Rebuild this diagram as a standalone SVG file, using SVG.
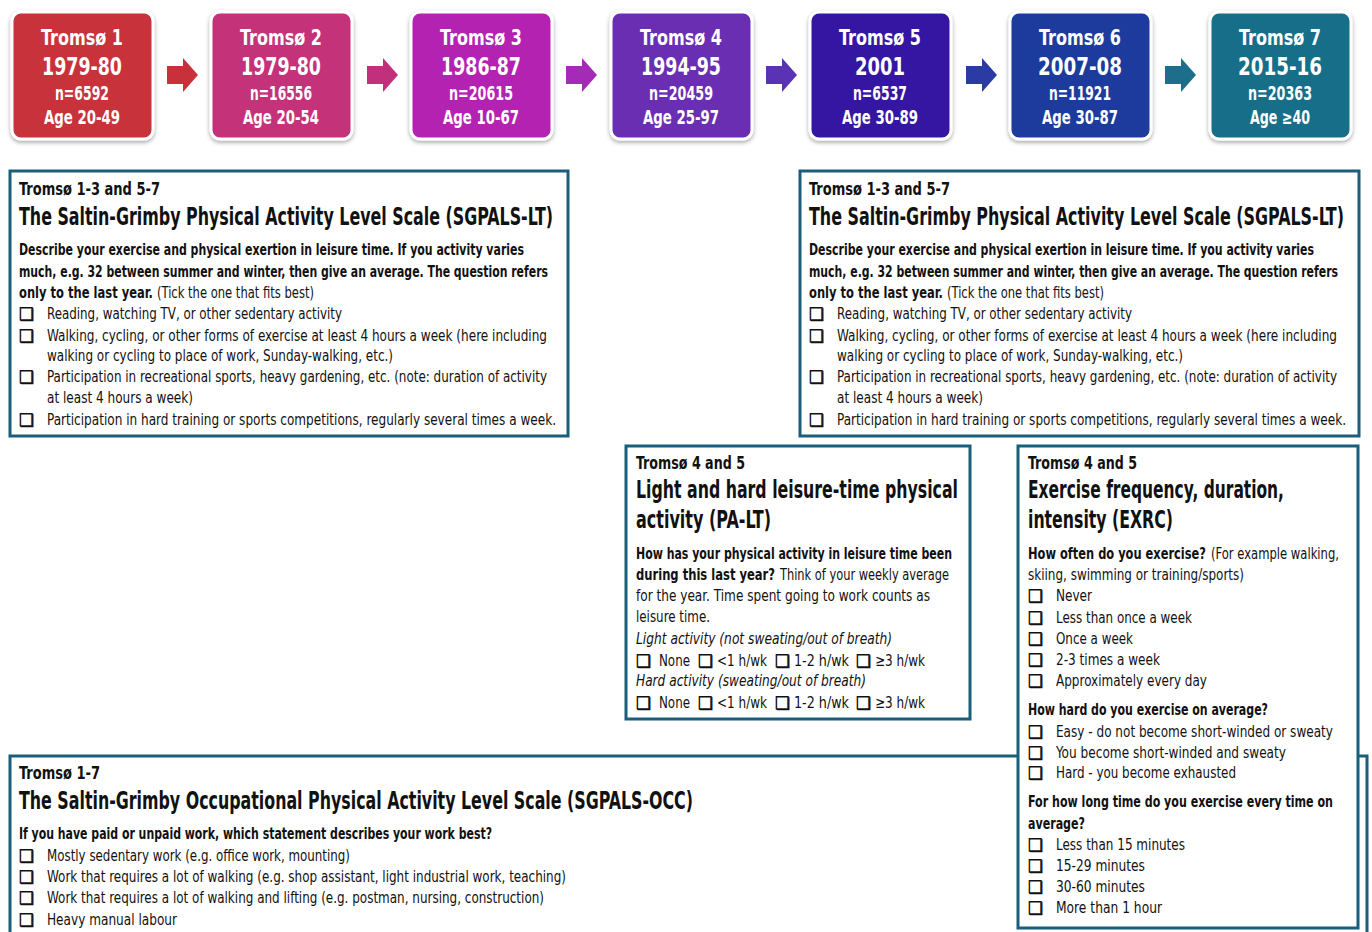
<svg xmlns="http://www.w3.org/2000/svg" width="1372" height="932" viewBox="0 0 1372 932">
<defs>
<filter id="sh" x="-10%" y="-10%" width="120%" height="125%">
<feDropShadow dx="0" dy="2" stdDeviation="2" flood-color="#000" flood-opacity="0.35"/>
</filter>
<style>
text{font-family:"Liberation Sans Narrow","Arial Narrow","DejaVu Sans Condensed","Liberation Sans",sans-serif;fill:#111;}
.wt{fill:#fff;font-weight:bold;text-anchor:middle;}
.t1{font-size:22px;}
.t2{font-size:25px;}
.t3{font-size:19px;}
.sub{font-size:17px;font-weight:bold;}
.ttl{font-size:24px;font-weight:bold;}
.b{font-size:16px;font-weight:bold;}
.r{font-size:16px;}
.i{font-size:16px;font-style:italic;}
.cb{font-family:"DejaVu Sans",sans-serif;font-size:17px;fill:#111;stroke:#111;stroke-width:0.6;}
.frame{fill:#fff;stroke:#1b5e7b;stroke-width:3;}
.tb{stroke:#fff;stroke-width:3;filter:url(#sh);}
</style>
</defs>
<rect width="1372" height="932" fill="#fff"/>

<g id="connectors">
<polygon points="167,66 183,66 183,58 198,75 183,92 183,84 167,84" fill="#c8303a"/>
<polygon points="367,66 383,66 383,58 398,75 383,92 383,84 367,84" fill="#c1307b"/>
<polygon points="566,66 582,66 582,58 597,75 582,92 582,84 566,84" fill="#a62ab8"/>
<polygon points="766,66 782,66 782,58 797,75 782,92 782,84 766,84" fill="#5a32b4"/>
<polygon points="966,66 982,66 982,58 997,75 982,92 982,84 966,84" fill="#2a3ca4"/>
<polygon points="1165,66 1181,66 1181,58 1196,75 1181,92 1181,84 1165,84" fill="#1d6e8a"/>
</g>

<g id="tromso1">
<rect class="tb" x="12" y="12" width="141" height="127" rx="9" fill="#c8303a"/>
<text class="wt t1" x="82" y="45" textLength="82" lengthAdjust="spacingAndGlyphs">Tromsø 1</text>
<text class="wt t2" x="82" y="75" textLength="80" lengthAdjust="spacingAndGlyphs">1979-80</text>
<text class="wt t3" x="82" y="100" textLength="54" lengthAdjust="spacingAndGlyphs">n=6592</text>
<text class="wt t3" x="82" y="124" textLength="76" lengthAdjust="spacingAndGlyphs">Age 20-49</text>
</g>
<g id="tromso2">
<rect class="tb" x="211" y="12" width="141" height="127" rx="9" fill="#c4307a"/>
<text class="wt t1" x="281" y="45" textLength="82" lengthAdjust="spacingAndGlyphs">Tromsø 2</text>
<text class="wt t2" x="281" y="75" textLength="80" lengthAdjust="spacingAndGlyphs">1979-80</text>
<text class="wt t3" x="281" y="100" textLength="62" lengthAdjust="spacingAndGlyphs">n=16556</text>
<text class="wt t3" x="281" y="124" textLength="76" lengthAdjust="spacingAndGlyphs">Age 20-54</text>
</g>
<g id="tromso3">
<rect class="tb" x="411" y="12" width="141" height="127" rx="9" fill="#b424b2"/>
<text class="wt t1" x="481" y="45" textLength="82" lengthAdjust="spacingAndGlyphs">Tromsø 3</text>
<text class="wt t2" x="481" y="75" textLength="80" lengthAdjust="spacingAndGlyphs">1986-87</text>
<text class="wt t3" x="481" y="100" textLength="64" lengthAdjust="spacingAndGlyphs">n=20615</text>
<text class="wt t3" x="481" y="124" textLength="76" lengthAdjust="spacingAndGlyphs">Age 10-67</text>
</g>
<g id="tromso4">
<rect class="tb" x="611" y="12" width="141" height="127" rx="9" fill="#6b2db2"/>
<text class="wt t1" x="681" y="45" textLength="82" lengthAdjust="spacingAndGlyphs">Tromsø 4</text>
<text class="wt t2" x="681" y="75" textLength="80" lengthAdjust="spacingAndGlyphs">1994-95</text>
<text class="wt t3" x="681" y="100" textLength="64" lengthAdjust="spacingAndGlyphs">n=20459</text>
<text class="wt t3" x="681" y="124" textLength="76" lengthAdjust="spacingAndGlyphs">Age 25-97</text>
</g>
<g id="tromso5">
<rect class="tb" x="810" y="12" width="141" height="127" rx="9" fill="#3419a2"/>
<text class="wt t1" x="880" y="45" textLength="82" lengthAdjust="spacingAndGlyphs">Tromsø 5</text>
<text class="wt t2" x="880" y="75" textLength="50" lengthAdjust="spacingAndGlyphs">2001</text>
<text class="wt t3" x="880" y="100" textLength="54" lengthAdjust="spacingAndGlyphs">n=6537</text>
<text class="wt t3" x="880" y="124" textLength="76" lengthAdjust="spacingAndGlyphs">Age 30-89</text>
</g>
<g id="tromso6">
<rect class="tb" x="1010" y="12" width="141" height="127" rx="9" fill="#1f3b9c"/>
<text class="wt t1" x="1080" y="45" textLength="82" lengthAdjust="spacingAndGlyphs">Tromsø 6</text>
<text class="wt t2" x="1080" y="75" textLength="84" lengthAdjust="spacingAndGlyphs">2007-08</text>
<text class="wt t3" x="1080" y="100" textLength="62" lengthAdjust="spacingAndGlyphs">n=11921</text>
<text class="wt t3" x="1080" y="124" textLength="76" lengthAdjust="spacingAndGlyphs">Age 30-87</text>
</g>
<g id="tromso7">
<rect class="tb" x="1210" y="12" width="141" height="127" rx="9" fill="#166e88"/>
<text class="wt t1" x="1280" y="45" textLength="82" lengthAdjust="spacingAndGlyphs">Tromsø 7</text>
<text class="wt t2" x="1280" y="75" textLength="84" lengthAdjust="spacingAndGlyphs">2015-16</text>
<text class="wt t3" x="1280" y="100" textLength="64" lengthAdjust="spacingAndGlyphs">n=20363</text>
<text class="wt t3" x="1280" y="124" textLength="60" lengthAdjust="spacingAndGlyphs">Age ≥40</text>
</g>

<g id="sgpals-lt-left">
<rect class="frame" x="10" y="171" width="558" height="265"/>
<text class="cb" x="19" y="320">❑</text>
<text class="cb" x="19" y="342">❑</text>
<text class="cb" x="19" y="383">❑</text>
<text class="cb" x="19" y="426">❑</text>
<g transform="scale(0.7,1)">
<text class="ttl" x="27.14" y="225" textLength="762.86" lengthAdjust="spacingAndGlyphs">The Saltin-Grimby Physical Activity Level Scale (SGPALS-LT)</text>
</g>
<g transform="scale(0.8,1)">
<text class="sub" x="23.75" y="195" textLength="176.25" lengthAdjust="spacingAndGlyphs">Tromsø 1-3 and 5-7</text>
<text class="b" x="23.75" y="255" textLength="631.25" lengthAdjust="spacingAndGlyphs">Describe your exercise and physical exertion in leisure time. If you activity varies</text>
<text class="b" x="23.75" y="277" textLength="661.25" lengthAdjust="spacingAndGlyphs">much, e.g. 32 between summer and winter, then give an average. The question refers</text>
<text class="b" x="23.75" y="298" textLength="167.5" lengthAdjust="spacingAndGlyphs">only to the last year.</text>
<text class="r" x="196.25" y="298" textLength="196.25" lengthAdjust="spacingAndGlyphs">(Tick the one that fits best)</text>
<text class="r" x="58.75" y="319" textLength="368.75" lengthAdjust="spacingAndGlyphs">Reading, watching TV, or other sedentary activity</text>
<text class="r" x="58.75" y="341" textLength="625" lengthAdjust="spacingAndGlyphs">Walking, cycling, or other forms of exercise at least 4 hours a week (here including</text>
<text class="r" x="58.75" y="361" textLength="432.5" lengthAdjust="spacingAndGlyphs">walking or cycling to place of work, Sunday-walking, etc.)</text>
<text class="r" x="58.75" y="382" textLength="625" lengthAdjust="spacingAndGlyphs">Participation in recreational sports, heavy gardening, etc. (note: duration of activity</text>
<text class="r" x="58.75" y="403" textLength="182.5" lengthAdjust="spacingAndGlyphs">at least 4 hours a week)</text>
<text class="r" x="58.75" y="425" textLength="636.25" lengthAdjust="spacingAndGlyphs">Participation in hard training or sports competitions, regularly several times a week.</text>
</g>
</g>

<g id="sgpals-lt-right">
<rect class="frame" x="800" y="171" width="559" height="265"/>
<text class="cb" x="809" y="320">❑</text>
<text class="cb" x="809" y="342">❑</text>
<text class="cb" x="809" y="383">❑</text>
<text class="cb" x="809" y="426">❑</text>
<g transform="scale(0.7,1)">
<text class="ttl" x="1155.71" y="225" textLength="764.29" lengthAdjust="spacingAndGlyphs">The Saltin-Grimby Physical Activity Level Scale (SGPALS-LT)</text>
</g>
<g transform="scale(0.8,1)">
<text class="sub" x="1011.25" y="195" textLength="176.25" lengthAdjust="spacingAndGlyphs">Tromsø 1-3 and 5-7</text>
<text class="b" x="1011.25" y="255" textLength="631.25" lengthAdjust="spacingAndGlyphs">Describe your exercise and physical exertion in leisure time. If you activity varies</text>
<text class="b" x="1011.25" y="277" textLength="661.25" lengthAdjust="spacingAndGlyphs">much, e.g. 32 between summer and winter, then give an average. The question refers</text>
<text class="b" x="1011.25" y="298" textLength="167.5" lengthAdjust="spacingAndGlyphs">only to the last year.</text>
<text class="r" x="1183.75" y="298" textLength="196.25" lengthAdjust="spacingAndGlyphs">(Tick the one that fits best)</text>
<text class="r" x="1046.25" y="319" textLength="368.75" lengthAdjust="spacingAndGlyphs">Reading, watching TV, or other sedentary activity</text>
<text class="r" x="1046.25" y="341" textLength="625" lengthAdjust="spacingAndGlyphs">Walking, cycling, or other forms of exercise at least 4 hours a week (here including</text>
<text class="r" x="1046.25" y="361" textLength="432.5" lengthAdjust="spacingAndGlyphs">walking or cycling to place of work, Sunday-walking, etc.)</text>
<text class="r" x="1046.25" y="382" textLength="625" lengthAdjust="spacingAndGlyphs">Participation in recreational sports, heavy gardening, etc. (note: duration of activity</text>
<text class="r" x="1046.25" y="403" textLength="182.5" lengthAdjust="spacingAndGlyphs">at least 4 hours a week)</text>
<text class="r" x="1046.25" y="425" textLength="636.25" lengthAdjust="spacingAndGlyphs">Participation in hard training or sports competitions, regularly several times a week.</text>
</g>
</g>

<g id="pa-lt">
<rect class="frame" x="626" y="446" width="344" height="273"/>
<text class="cb" x="636" y="667">❑</text>
<text class="cb" x="698" y="667">❑</text>
<text class="cb" x="775" y="667">❑</text>
<text class="cb" x="856" y="667">❑</text>
<text class="cb" x="636" y="709">❑</text>
<text class="cb" x="698" y="709">❑</text>
<text class="cb" x="775" y="709">❑</text>
<text class="cb" x="856" y="709">❑</text>
<g transform="scale(0.8,1)">
<text class="sub" x="795" y="469" textLength="136.25" lengthAdjust="spacingAndGlyphs">Tromsø 4 and 5</text>
<text class="ttl" x="795" y="498" textLength="402.5" lengthAdjust="spacingAndGlyphs">Light and hard leisure-time physical</text>
<text class="ttl" x="795" y="528" textLength="168.75" lengthAdjust="spacingAndGlyphs">activity (PA-LT)</text>
<text class="b" x="795" y="559" textLength="395" lengthAdjust="spacingAndGlyphs">How has your physical activity in leisure time been</text>
<text class="b" x="795" y="580" textLength="173.75" lengthAdjust="spacingAndGlyphs">during this last year?</text>
<text class="r" x="975" y="580" textLength="211.25" lengthAdjust="spacingAndGlyphs">Think of your weekly average</text>
<text class="r" x="795" y="601" textLength="367.5" lengthAdjust="spacingAndGlyphs">for the year.  Time spent going to work counts as</text>
<text class="r" x="795" y="622" textLength="92.5" lengthAdjust="spacingAndGlyphs">leisure time.</text>
<text class="i" x="795" y="644" textLength="320" lengthAdjust="spacingAndGlyphs">Light activity (not sweating/out of breath)</text>
<text class="r" x="823.75" y="666" textLength="38.75" lengthAdjust="spacingAndGlyphs">None</text>
<text class="r" x="896.25" y="666" textLength="62.5" lengthAdjust="spacingAndGlyphs">&lt;1 h/wk</text>
<text class="r" x="992.5" y="666" textLength="68.75" lengthAdjust="spacingAndGlyphs">1-2 h/wk</text>
<text class="r" x="1093.75" y="666" textLength="62.5" lengthAdjust="spacingAndGlyphs">≥3 h/wk</text>
<text class="i" x="795" y="686" textLength="287.5" lengthAdjust="spacingAndGlyphs">Hard activity (sweating/out of breath)</text>
<text class="r" x="823.75" y="708" textLength="38.75" lengthAdjust="spacingAndGlyphs">None</text>
<text class="r" x="896.25" y="708" textLength="62.5" lengthAdjust="spacingAndGlyphs">&lt;1 h/wk</text>
<text class="r" x="992.5" y="708" textLength="68.75" lengthAdjust="spacingAndGlyphs">1-2 h/wk</text>
<text class="r" x="1093.75" y="708" textLength="62.5" lengthAdjust="spacingAndGlyphs">≥3 h/wk</text>
</g>
</g>

<g id="sgpals-occ">
<rect class="frame" x="10" y="756" width="1357" height="200"/>
<text class="cb" x="19" y="862">❑</text>
<text class="cb" x="19" y="883">❑</text>
<text class="cb" x="19" y="904">❑</text>
<text class="cb" x="19" y="926">❑</text>
<g transform="scale(0.8,1)">
<text class="sub" x="23.75" y="779" textLength="101.25" lengthAdjust="spacingAndGlyphs">Tromsø 1-7</text>
<text class="ttl" x="23.75" y="809" textLength="842.5" lengthAdjust="spacingAndGlyphs">The Saltin-Grimby Occupational Physical Activity Level Scale (SGPALS-OCC)</text>
<text class="b" x="23.75" y="839" textLength="591.25" lengthAdjust="spacingAndGlyphs">If you have paid or unpaid work, which statement describes your work best?</text>
<text class="r" x="58.75" y="861" textLength="378.75" lengthAdjust="spacingAndGlyphs">Mostly sedentary work (e.g. office work, mounting)</text>
<text class="r" x="58.75" y="882" textLength="648.75" lengthAdjust="spacingAndGlyphs">Work that requires a lot of walking (e.g. shop assistant, light industrial work, teaching)</text>
<text class="r" x="58.75" y="903" textLength="621.25" lengthAdjust="spacingAndGlyphs">Work that requires a lot of walking and lifting (e.g. postman, nursing, construction)</text>
<text class="r" x="58.75" y="925" textLength="162.5" lengthAdjust="spacingAndGlyphs">Heavy manual labour</text>
</g>
</g>

<g id="exrc">
<rect class="frame" x="1018" y="446" width="340" height="482"/>
<text class="cb" x="1028" y="602">❑</text>
<text class="cb" x="1028" y="624">❑</text>
<text class="cb" x="1028" y="645">❑</text>
<text class="cb" x="1028" y="666">❑</text>
<text class="cb" x="1028" y="687">❑</text>
<text class="cb" x="1028" y="738">❑</text>
<text class="cb" x="1028" y="759">❑</text>
<text class="cb" x="1028" y="779">❑</text>
<text class="cb" x="1028" y="851">❑</text>
<text class="cb" x="1028" y="872">❑</text>
<text class="cb" x="1028" y="893">❑</text>
<text class="cb" x="1028" y="914">❑</text>
<g transform="scale(0.8,1)">
<text class="sub" x="1285" y="469" textLength="136.25" lengthAdjust="spacingAndGlyphs">Tromsø 4 and 5</text>
<text class="ttl" x="1285" y="498" textLength="320" lengthAdjust="spacingAndGlyphs">Exercise frequency, duration,</text>
<text class="ttl" x="1285" y="528" textLength="181.25" lengthAdjust="spacingAndGlyphs">intensity (EXRC)</text>
<text class="b" x="1285" y="559" textLength="222.5" lengthAdjust="spacingAndGlyphs">How often do you exercise?</text>
<text class="r" x="1513.75" y="559" textLength="160" lengthAdjust="spacingAndGlyphs">(For example walking,</text>
<text class="r" x="1285" y="580" textLength="270" lengthAdjust="spacingAndGlyphs">skiing, swimming or training/sports)</text>
<text class="r" x="1320" y="601" textLength="45" lengthAdjust="spacingAndGlyphs">Never</text>
<text class="r" x="1320" y="623" textLength="170" lengthAdjust="spacingAndGlyphs">Less than once a week</text>
<text class="r" x="1320" y="644" textLength="96.25" lengthAdjust="spacingAndGlyphs">Once a week</text>
<text class="r" x="1320" y="665" textLength="130" lengthAdjust="spacingAndGlyphs">2-3 times a week</text>
<text class="r" x="1320" y="686" textLength="188.75" lengthAdjust="spacingAndGlyphs">Approximately every day</text>
<text class="b" x="1285" y="715" textLength="300" lengthAdjust="spacingAndGlyphs">How hard do you exercise on average?</text>
<text class="r" x="1320" y="737" textLength="346.25" lengthAdjust="spacingAndGlyphs">Easy - do not become short-winded or sweaty</text>
<text class="r" x="1320" y="758" textLength="287.5" lengthAdjust="spacingAndGlyphs">You become short-winded and sweaty</text>
<text class="r" x="1320" y="778" textLength="225" lengthAdjust="spacingAndGlyphs">Hard - you become exhausted</text>
<text class="b" x="1285" y="807" textLength="381.25" lengthAdjust="spacingAndGlyphs">For how long time do you exercise every time on</text>
<text class="b" x="1285" y="829" textLength="71.25" lengthAdjust="spacingAndGlyphs">average?</text>
<text class="r" x="1320" y="850" textLength="161.25" lengthAdjust="spacingAndGlyphs">Less than 15 minutes</text>
<text class="r" x="1320" y="871" textLength="111.25" lengthAdjust="spacingAndGlyphs">15-29 minutes</text>
<text class="r" x="1320" y="892" textLength="111.25" lengthAdjust="spacingAndGlyphs">30-60 minutes</text>
<text class="r" x="1320" y="913" textLength="132.5" lengthAdjust="spacingAndGlyphs">More than 1 hour</text>
</g>
</g>
</svg>
